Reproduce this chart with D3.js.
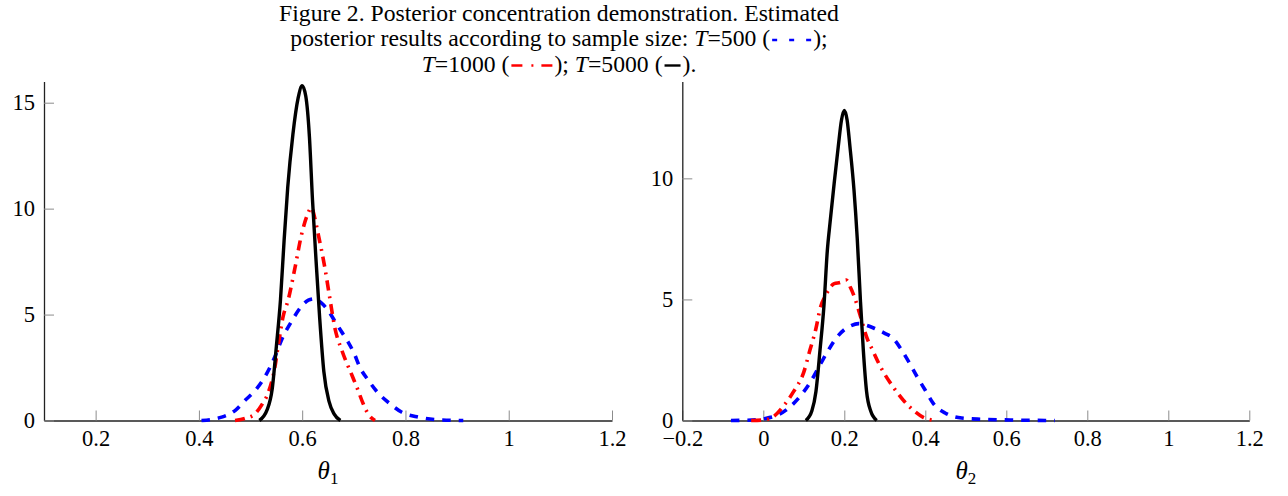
<!DOCTYPE html>
<html>
<head>
<meta charset="utf-8">
<script src="https://d3js.org/d3.v7.min.js"></script>
<style>
body { margin: 0; background: #fff; }
.tick line { stroke: #8c8c8c; stroke-width: 1; }
.domain { stroke: #222; stroke-width: 1.3; }
</style>
</head>
<body>
<div class="figRender"></div>
<script>
var width = 1288, height = 496;
var serif = "'Liberation Serif', 'Times New Roman', serif";

// tick values
var xTicks1 = [0.2, 0.4, 0.6, 0.8, 1, 1.2];
var yTicks1 = [0, 5, 10, 15];
var xTicks2 = [-0.2, 0, 0.2, 0.4, 0.6, 0.8, 1, 1.2];
var yTicks2 = [0, 5, 10];

// theta_1 posteriors, [theta, density]
var th1_T500 = [[0.405,0],[0.444,0.16],[0.47,0.47],[0.489,0.94],[0.512,1.5],[0.531,2.2],[0.547,3.0],
    [0.56,3.8],[0.58,4.7],[0.599,5.4],[0.612,5.68],[0.624,5.75],[0.637,5.55],[0.65,5.2],[0.663,4.7],
    [0.676,4.2],[0.689,3.7],[0.7,3.2],[0.712,2.5],[0.728,1.9],[0.747,1.3],[0.77,0.79],[0.793,0.39],
    [0.825,0.16],[0.86,0.04],[0.912,0]];
var th1_T1000 = [[0.47,0],[0.49,0.1],[0.508,0.3],[0.522,0.75],[0.534,1.3],[0.547,2.5],[0.554,3.6],
    [0.563,4.9],[0.573,5.7],[0.586,7.2],[0.599,8.8],[0.61,9.7],[0.618,10.05],[0.624,9.6],[0.631,8.8],
    [0.644,7.2],[0.654,5.7],[0.663,4.4],[0.677,3.3],[0.697,2.1],[0.707,1.5],[0.718,0.8],[0.728,0.3],
    [0.741,0]];
var th1_T5000 = [[0.517,0],[0.532,0.5],[0.542,1.5],[0.55,3.5],[0.558,5.7],[0.565,8.5],[0.572,11],
    [0.582,13.5],[0.592,15.2],[0.6,15.8],[0.607,15.3],[0.614,13.4],[0.62,10.4],[0.627,7.5],[0.634,4.8],
    [0.642,2.3],[0.652,0.9],[0.662,0.3],[0.674,0]];

// theta_2 posteriors, [theta, density]
var th2_T500 = [[-0.08,0],[-0.04,0.01],[0.0,0.07],[0.035,0.22],[0.065,0.55],[0.09,0.98],[0.115,1.55],
    [0.14,2.3],[0.157,2.8],[0.18,3.4],[0.2,3.75],[0.215,3.9],[0.235,4.0],[0.255,3.93],[0.275,3.8],
    [0.3,3.6],[0.32,3.4],[0.34,2.95],[0.36,2.4],[0.38,1.8],[0.4,1.25],[0.42,0.7],[0.45,0.3],[0.49,0.1],
    [0.54,0.05],[0.61,0.02],[0.72,0]];
var th2_T1000 = [[-0.03,0],[0.0,0.02],[0.025,0.16],[0.05,0.6],[0.075,1.2],[0.1,2.0],[0.115,2.9],
    [0.13,3.8],[0.14,4.6],[0.155,5.2],[0.175,5.65],[0.19,5.7],[0.205,5.8],[0.215,5.5],[0.225,5.1],
    [0.24,4.3],[0.255,3.45],[0.27,2.9],[0.29,2.2],[0.32,1.4],[0.345,0.85],[0.37,0.43],[0.395,0.13],
    [0.425,0]];
var th2_T5000 = [[0.105,0],[0.12,0.4],[0.13,1.2],[0.14,2.9],[0.15,4.8],[0.158,7.0],[0.165,8.2],
    [0.175,9.8],[0.185,11.3],[0.193,12.4],[0.2,12.8],[0.207,12.4],[0.214,11.3],[0.224,9.5],[0.232,7.5],
    [0.24,4.9],[0.247,2.9],[0.255,1.2],[0.265,0.4],[0.28,0]];

// line styles per sample size
var styles = {
    T500:  {color: "#0000ff", dash: "8.5,8", w: 3.6},
    T1000: {color: "#ff0000", dash: "10,6,2,6", w: 3.6},
    T5000: {color: "#000000", dash: null, w: 3.4}
};

var svg = d3.select(".figRender").append("svg")
    .attr("width", width)
    .attr("height", height);

function fmt(d) { return String(d).replace("-", "\u2212"); }

function drawPanel(xDom, xRange, yMax, xTicks, yTicks, series, sub) {
    var x = d3.scaleLinear().domain(xDom).range(xRange);
    var y = d3.scaleLinear().domain([0, yMax]).range([420.5, 81.5]);

    var g = svg.append("g");

    // Add the X Axis
    g.append("g")
        .attr("transform", "translate(0,420.5)")
        .call(d3.axisBottom(x).tickValues(xTicks).tickFormat(fmt)
            .tickSizeInner(-10).tickSizeOuter(0).tickPadding(10));

    // Add the Y Axis
    g.append("g")
        .attr("transform", "translate(" + xRange[0] + ",0)")
        .call(d3.axisLeft(y).tickValues(yTicks).tickFormat(fmt)
            .tickSizeInner(-10).tickSizeOuter(0).tickPadding(9));

    g.selectAll(".tick text")
        .attr("fill", "#000")
        .style("font-family", serif)
        .style("font-size", "22.5px");

    var line = d3.line()
        .curve(d3.curveMonotoneX)
        .x(function(d){ return x(d[0]); })
        .y(function(d){ return y(d[1]); });

    series.forEach(function(s){
        var st = styles[s.key];
        g.append("path")
            .attr("d", line(s.data))
            .attr("fill", "none")
            .attr("stroke", st.color)
            .attr("stroke-width", st.w)
            .attr("stroke-linejoin", "round")
            .attr("stroke-dasharray", st.dash);
    });

    // x axis label
    var lab = g.append("text")
        .attr("x", (xRange[0] + xRange[1]) / 2)
        .attr("y", 479)
        .attr("text-anchor", "middle")
        .style("font-family", serif)
        .style("font-size", "25px");
    lab.append("tspan").style("font-style", "italic").text("\u03b8");
    lab.append("tspan").attr("dy", 5).style("font-size", "17px").text(sub);
}

drawPanel([0.1, 1.2], [44, 612], 16, xTicks1, yTicks1,
    [{key: "T500", data: th1_T500}, {key: "T1000", data: th1_T1000}, {key: "T5000", data: th1_T5000}], "1");
drawPanel([-0.2, 1.2], [682.3, 1249.3], 14, xTicks2, yTicks2,
    [{key: "T500", data: th2_T500}, {key: "T1000", data: th2_T1000}, {key: "T5000", data: th2_T5000}], "2");

// caption with inline legend samples
var titleLines = [
    [{t: "Figure 2. Posterior concentration demonstration. Estimated"}],
    [{t: "posterior results according to sample size: "}, {t: "T", i: true}, {t: "=500 ("}, {s: "T500"}, {t: ");"}],
    [{t: "T", i: true}, {t: "=1000 ("}, {s: "T1000"}, {t: "); "}, {t: "T", i: true}, {t: "=5000 ("}, {s: "T5000"}, {t: ")."}]
];
var samples = {
    T500:  {len: 39, dash: "5,12"},
    T1000: {len: 41, dash: "11,9,2,8,11"},
    T5000: {len: 16, dash: null}
};

titleLines.forEach(function(pieces, li){
    var base = 20.5 + li * 25.5;
    var tg = svg.append("g");
    var cx = 0;
    pieces.forEach(function(p){
        if (p.s) {
            cx += 2;
            tg.append("line")
                .attr("x1", cx).attr("x2", cx + samples[p.s].len)
                .attr("y1", base - 6).attr("y2", base - 6)
                .attr("stroke", styles[p.s].color)
                .attr("stroke-width", 2.4)
                .attr("stroke-dasharray", samples[p.s].dash);
            cx += samples[p.s].len + 2;
        } else {
            var t = tg.append("text")
                .attr("x", cx).attr("y", base)
                .style("font-family", serif)
                .style("font-size", "23.7px")
                .style("white-space", "pre")
                .style("font-style", p.i ? "italic" : "normal")
                .text(p.t);
            cx += t.node().getComputedTextLength();
        }
    });
    tg.attr("transform", "translate(" + (559 - cx / 2) + ",0)");
});
</script>
</body>
</html>
